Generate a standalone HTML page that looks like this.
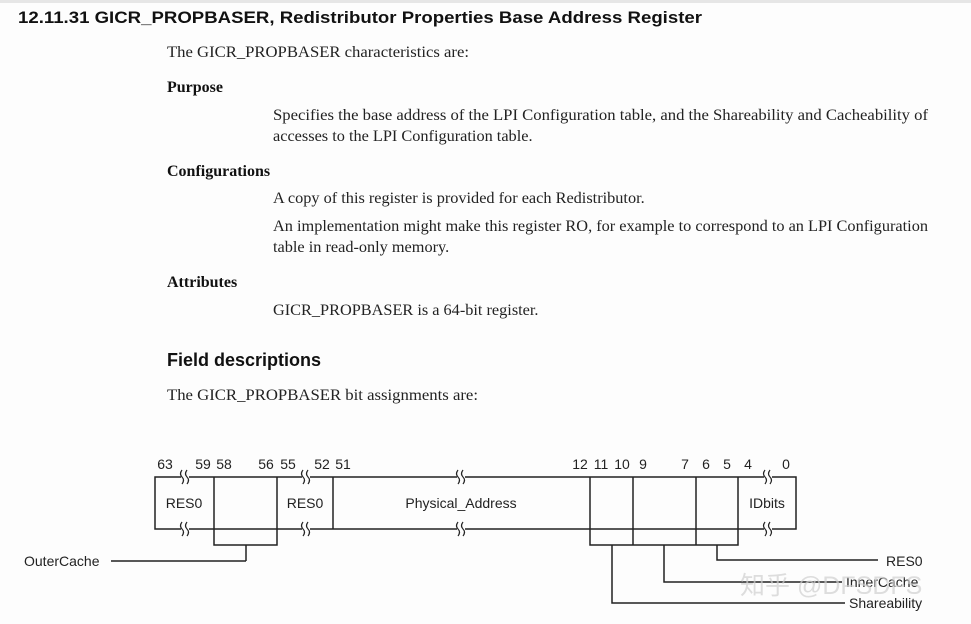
<!DOCTYPE html>
<html><head><meta charset="utf-8"><style>
html,body{margin:0;padding:0;background:#fff;}
svg{display:block}
.s{font-family:"Liberation Serif",serif;font-size:16.3px;fill:#222}
.b{font-family:"Liberation Serif",serif;font-size:16px;font-weight:bold;fill:#111}
.a{font-family:"Liberation Sans",sans-serif;font-size:14px;fill:#222}
</style></head><body>
<svg width="971" height="624" viewBox="0 0 971 624" xmlns="http://www.w3.org/2000/svg">
<rect width="971" height="624" fill="#fdfdfd"/>
<rect x="0" y="0" width="971" height="3" fill="#e6e6e6"/>
<text x="18" y="23" font-family="Liberation Sans, sans-serif" font-size="17" font-weight="bold" fill="#111" textLength="684" lengthAdjust="spacingAndGlyphs">12.11.31  GICR_PROPBASER, Redistributor Properties Base Address Register</text>
<text class="s" x="167" y="57" textLength="302" lengthAdjust="spacingAndGlyphs">The GICR_PROPBASER characteristics are:</text>
<text class="b" x="167" y="92">Purpose</text>
<text class="s" x="273" y="120" textLength="655" lengthAdjust="spacingAndGlyphs">Specifies the base address of the LPI Configuration table, and the Shareability and Cacheability of</text>
<text class="s" x="273" y="141">accesses to the LPI Configuration table.</text>
<text class="b" x="167" y="176">Configurations</text>
<text class="s" x="273" y="203">A copy of this register is provided for each Redistributor.</text>
<text class="s" x="273" y="231" textLength="655" lengthAdjust="spacingAndGlyphs">An implementation might make this register RO, for example to correspond to an LPI Configuration</text>
<text class="s" x="273" y="252">table in read-only memory.</text>
<text class="b" x="167" y="287">Attributes</text>
<text class="s" x="273" y="315">GICR_PROPBASER is a 64-bit register.</text>
<text x="167" y="366" font-family="Liberation Sans, sans-serif" font-size="18" font-weight="bold" fill="#111">Field descriptions</text>
<text class="s" x="167" y="400" textLength="311" lengthAdjust="spacingAndGlyphs">The GICR_PROPBASER bit assignments are:</text>

<g stroke="#222" stroke-width="1.5" fill="none">
<rect x="155" y="477" width="641" height="52"/>
<line x1="214" y1="477" x2="214" y2="529"/>
<line x1="277" y1="477" x2="277" y2="529"/>
<line x1="333" y1="477" x2="333" y2="529"/>
<line x1="590" y1="477" x2="590" y2="529"/>
<line x1="633" y1="477" x2="633" y2="529"/>
<line x1="696" y1="477" x2="696" y2="529"/>
<line x1="738" y1="477" x2="738" y2="529"/>
<polyline points="214,529 214,545 277,545 277,529"/>
<line x1="246" y1="545" x2="246" y2="561"/>
<line x1="111" y1="561" x2="246" y2="561"/>
<polyline points="590,529 590,545 738,545 738,529"/>
<line x1="633" y1="545" x2="633" y2="529"/>
<line x1="696" y1="545" x2="696" y2="529"/>
<polyline points="717,545 717,560 878,560"/>
<polyline points="664,545 664,582 842,582"/>
<polyline points="612,545 612,603 845,603"/>
</g>
<g>
<rect x="181" y="470" width="8" height="14" fill="#fdfdfd"/>
<rect x="181" y="522" width="8" height="14" fill="#fdfdfd"/>
<rect x="302" y="470" width="8" height="14" fill="#fdfdfd"/>
<rect x="302" y="522" width="8" height="14" fill="#fdfdfd"/>
<rect x="457" y="470" width="8" height="14" fill="#fdfdfd"/>
<rect x="457" y="522" width="8" height="14" fill="#fdfdfd"/>
<rect x="764" y="470" width="8" height="14" fill="#fdfdfd"/>
<rect x="764" y="522" width="8" height="14" fill="#fdfdfd"/>
</g>
<g stroke="#222" stroke-width="1.2" fill="none">
<path d="M182,470 q-3,4 0,7 q3,3 0,7 M187,470 q-3,4 0,7 q3,3 0,7"/>
<path d="M182,522 q-3,4 0,7 q3,3 0,7 M187,522 q-3,4 0,7 q3,3 0,7"/>
<path d="M303,470 q-3,4 0,7 q3,3 0,7 M308,470 q-3,4 0,7 q3,3 0,7"/>
<path d="M303,522 q-3,4 0,7 q3,3 0,7 M308,522 q-3,4 0,7 q3,3 0,7"/>
<path d="M458,470 q-3,4 0,7 q3,3 0,7 M463,470 q-3,4 0,7 q3,3 0,7"/>
<path d="M458,522 q-3,4 0,7 q3,3 0,7 M463,522 q-3,4 0,7 q3,3 0,7"/>
<path d="M765,470 q-3,4 0,7 q3,3 0,7 M770,470 q-3,4 0,7 q3,3 0,7"/>
<path d="M765,522 q-3,4 0,7 q3,3 0,7 M770,522 q-3,4 0,7 q3,3 0,7"/>
</g>
<g text-anchor="middle">
<text class="a" x="165" y="469">63</text>
<text class="a" x="203" y="469">59</text>
<text class="a" x="224" y="469">58</text>
<text class="a" x="266" y="469">56</text>
<text class="a" x="288" y="469">55</text>
<text class="a" x="322" y="469">52</text>
<text class="a" x="343" y="469">51</text>
<text class="a" x="580" y="469">12</text>
<text class="a" x="601" y="469">11</text>
<text class="a" x="622" y="469">10</text>
<text class="a" x="643" y="469">9</text>
<text class="a" x="685" y="469">7</text>
<text class="a" x="706" y="469">6</text>
<text class="a" x="727" y="469">5</text>
<text class="a" x="748" y="469">4</text>
<text class="a" x="786" y="469">0</text>
<text class="a" x="184" y="508">RES0</text>
<text class="a" x="305" y="508">RES0</text>
<text class="a" x="461" y="508">Physical_Address</text>
<text class="a" x="767" y="508">IDbits</text>
</g>
<text class="a" x="24" y="566">OuterCache</text>
<text class="a" x="886" y="566">RES0</text>
<text class="a" x="846" y="587">InnerCache</text>
<text class="a" x="849" y="608">Shareability</text>
<text x="740" y="594" font-family="Liberation Sans, Noto Sans CJK SC, sans-serif" font-size="25" fill="#cfcfcf" fill-opacity="0.7">知乎 @DFSDFS</text>
</svg>
</body></html>
